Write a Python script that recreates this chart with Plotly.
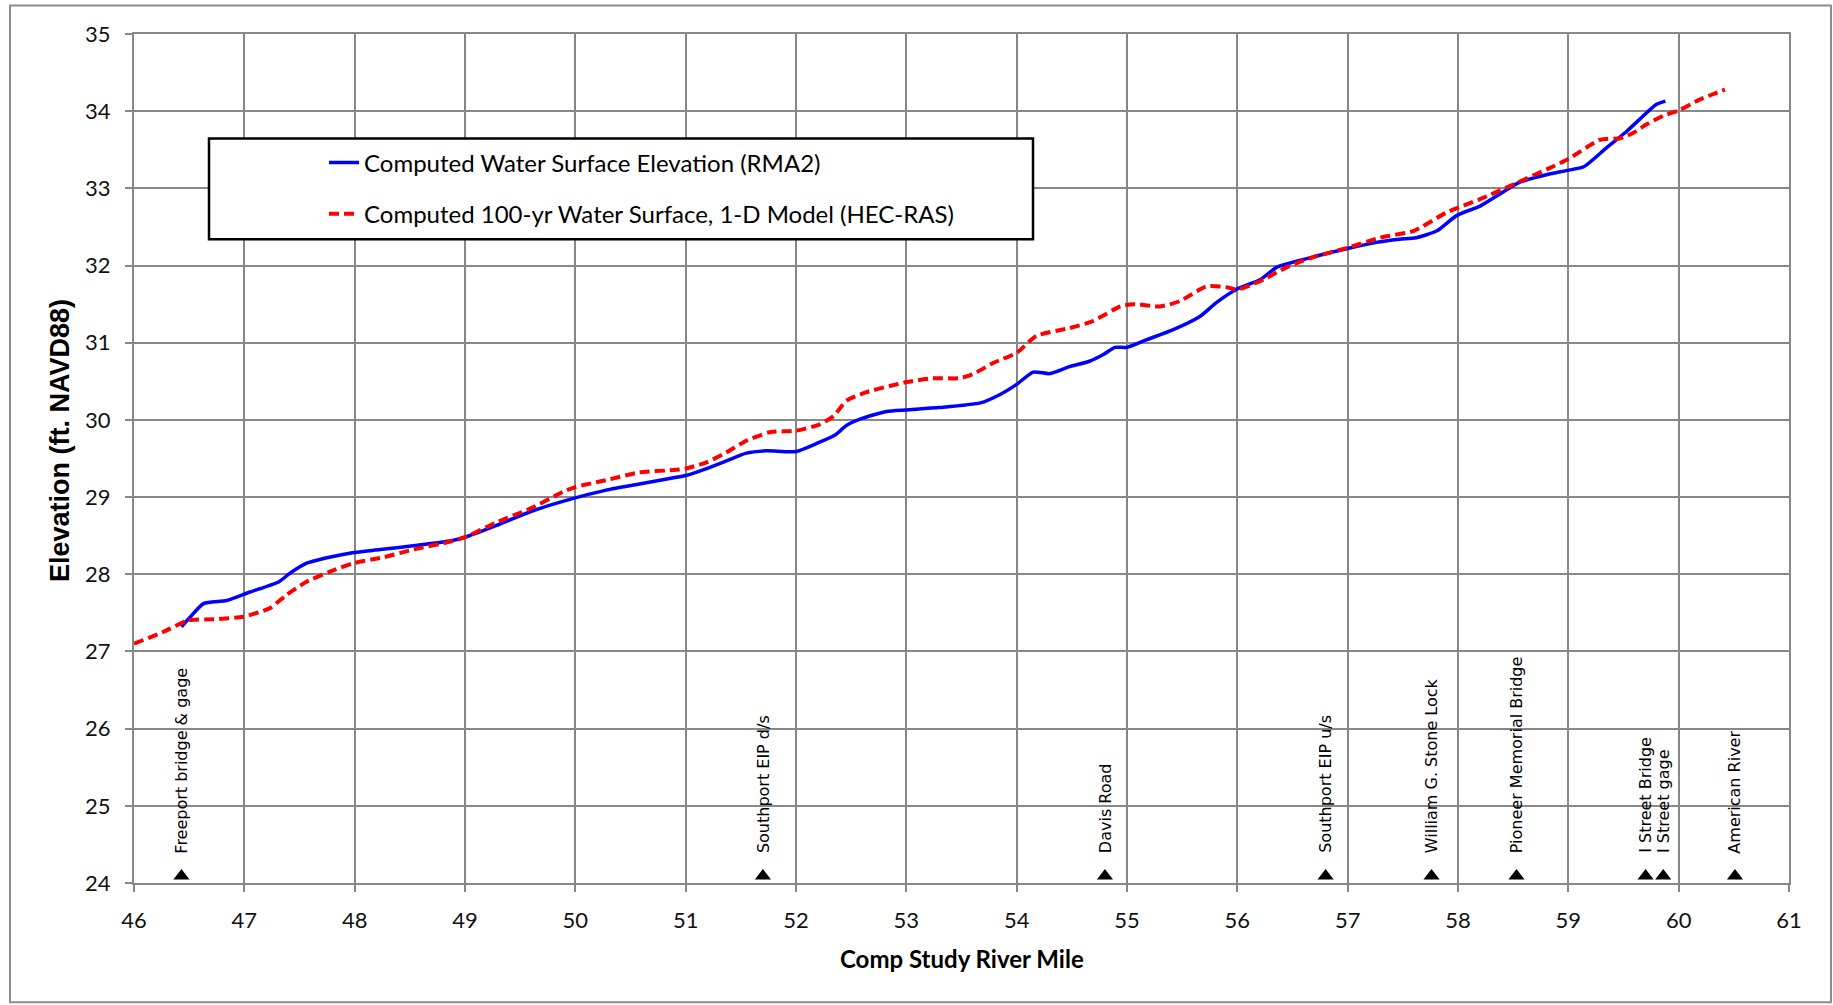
import plotly.graph_objects as go

# ---- data ----
rma2_mile = [46.43, 46.50, 46.63, 46.84, 47.05, 47.31, 47.41, 47.56, 47.77, 47.98,
             48.23, 48.53, 48.86, 49.00, 49.28, 49.59, 49.95, 50.28, 50.58, 50.89,
             51.00, 51.19, 51.37, 51.55, 51.73, 52.00, 52.18, 52.35, 52.46, 52.58,
             52.82, 53.00, 53.30, 53.67, 53.85, 54.00, 54.15, 54.30, 54.48, 54.66,
             54.79, 54.89, 55.00, 55.18, 55.42, 55.66, 55.81, 55.99, 56.21, 56.36,
             56.63, 57.00, 57.26, 57.47, 57.62, 57.81, 57.99, 58.20, 58.35, 58.56,
             58.81, 58.98, 59.14, 59.35, 59.53, 59.71, 59.80, 59.88]
rma2_elev = [27.32, 27.43, 27.62, 27.66, 27.77, 27.90, 28.01, 28.14, 28.22, 28.28,
             28.32, 28.37, 28.43, 28.48, 28.63, 28.81, 28.97, 29.09, 29.17, 29.25,
             29.28, 29.37, 29.47, 29.57, 29.60, 29.59, 29.69, 29.80, 29.93, 30.01,
             30.11, 30.13, 30.16, 30.22, 30.33, 30.46, 30.62, 30.60, 30.69, 30.76,
             30.85, 30.94, 30.94, 31.04, 31.17, 31.34, 31.52, 31.69, 31.82, 31.98,
             32.09, 32.22, 32.30, 32.34, 32.36, 32.45, 32.65, 32.77, 32.90, 33.08,
             33.18, 33.23, 33.28, 33.53, 33.74, 33.98, 34.09, 34.13]

hecras_mile = [46.00, 46.26, 46.49, 46.75, 46.99, 47.23, 47.38, 47.56, 47.77, 47.98,
               48.26, 48.53, 48.86, 49.00, 49.28, 49.59, 49.89, 50.00, 50.28, 50.58,
               50.89, 51.00, 51.19, 51.37, 51.55, 51.76, 52.00, 52.21, 52.34, 52.46,
               52.64, 52.85, 53.00, 53.24, 53.48, 53.60, 53.79, 54.00, 54.18, 54.48,
               54.69, 54.94, 55.06, 55.30, 55.48, 55.72, 55.90, 56.00, 56.21, 56.45,
               56.69, 57.00, 57.29, 57.60, 57.90, 58.20, 58.50, 58.81, 59.00, 59.29,
               59.47, 59.59, 59.71, 59.86, 60.00, 60.19, 60.42]
hecras_elev = [27.10, 27.25, 27.40, 27.42, 27.45, 27.56, 27.73, 27.90, 28.03, 28.14,
               28.22, 28.32, 28.42, 28.48, 28.67, 28.85, 29.07, 29.13, 29.22, 29.32,
               29.35, 29.37, 29.45, 29.58, 29.73, 29.84, 29.86, 29.94, 30.05, 30.25,
               30.36, 30.44, 30.49, 30.54, 30.54, 30.59, 30.74, 30.87, 31.09, 31.19,
               31.28, 31.47, 31.50, 31.47, 31.54, 31.73, 31.72, 31.69, 31.80, 31.98,
               32.11, 32.23, 32.36, 32.45, 32.69, 32.86, 33.05, 33.25, 33.38, 33.63,
               33.65, 33.72, 33.83, 33.94, 34.01, 34.15, 34.28]

landmark_names = ["Freeport bridge & gage", "Southport EIP d/s", "Davis Road",
                  "Southport EIP u/s", "William G. Stone Lock", "Pioneer Memorial Bridge",
                  "I Street Bridge", "I Street gage", "American River"]
landmark_miles = [46.43, 51.70, 54.80, 56.80, 57.76, 58.53, 59.70, 59.86, 60.51]
landmark_marker_elev = 24.09
landmark_label_elev = 24.36

x_ticks = list(range(46, 62))
y_ticks = list(range(24, 36))

# ---- figure ----
W, H = 1833, 1005
L, R, T, B = 134, 44, 33.5, 121.5
pw, ph = W - L - R, H - T - B


def px(X):
    return (X - L) / pw


def py(Y):
    return (H - B - Y) / ph


GRID = "#888888"
FONT = "Lato, Calibri, Carlito, sans-serif"

fig = go.Figure()
fig.add_trace(go.Scatter(
    x=rma2_mile, y=rma2_elev, mode="lines",
    name="Computed Water Surface Elevation (RMA2)",
    line=dict(color="#0000FF", width=3.5, shape="spline", smoothing=0.6),
    legendgroup="a"))
fig.add_trace(go.Scatter(
    x=hecras_mile, y=hecras_elev, mode="lines",
    name="Computed 100-yr Water Surface, 1-D Model (HEC-RAS)",
    line=dict(color="#FF0000", width=4, dash="10px,5px", shape="spline", smoothing=0.6),
    legendgroup="b"))
fig.add_trace(go.Scatter(
    x=landmark_miles, y=[landmark_marker_elev] * len(landmark_miles), mode="markers",
    marker=dict(symbol="triangle-up", size=14, color="black"),
    showlegend=False, cliponaxis=False, hoverinfo="skip"))

annotations = []
for name, mile in zip(landmark_names, landmark_miles):
    annotations.append(dict(
        x=mile, y=landmark_label_elev, xref="x", yref="y", text=name,
        textangle=-90, showarrow=False, xanchor="center", yanchor="bottom",
        font=dict(family="DejaVu Sans, Verdana, sans-serif", size=16, color="black")))

annotations.append(dict(
    x=px(60), y=py(441), xref="paper", yref="paper", text="<b>Elevation (ft. NAVD88)</b>",
    textangle=-90, showarrow=False, xanchor="center", yanchor="middle",
    font=dict(family="Liberation Sans, Arial, sans-serif", size=27, color="black")))
annotations.append(dict(
    x=px(962), y=py(959), xref="paper", yref="paper", text="<b>Comp Study River Mile</b>",
    showarrow=False, xanchor="center", yanchor="middle",
    font=dict(family=FONT, size=24, color="black")))

shapes = [
    # outer chart frame
    dict(type="rect", xref="paper", yref="paper",
         x0=px(10), x1=px(1831), y0=py(1003), y1=py(5),
         line=dict(color="#8c8c8c", width=2), fillcolor="rgba(0,0,0,0)", layer="below"),
    # legend box
    dict(type="rect", xref="paper", yref="paper",
         x0=px(209), x1=px(1033), y0=py(239), y1=py(138),
         line=dict(color="black", width=2.5), fillcolor="white", layer="above"),
]

fig.update_layout(
    width=W, height=H,
    margin=dict(l=L, r=R, t=T, b=B, pad=0),
    paper_bgcolor="white", plot_bgcolor="white",
    font=dict(family=FONT, size=22, color="black"),
    showlegend=True,
    legend=dict(x=px(324), y=py(140), xanchor="left", yanchor="top",
                bgcolor="rgba(0,0,0,0)", borderwidth=0,
                traceorder="grouped", tracegroupgap=17,
                font=dict(family=FONT, size=24, color="black")),
    annotations=annotations,
    shapes=shapes,
)
fig.update_xaxes(range=[46, 61], tickvals=x_ticks, ticktext=[str(v) for v in x_ticks],
                 showgrid=True, gridcolor=GRID, gridwidth=2,
                 showline=True, linecolor=GRID, linewidth=2, mirror=True,
                 ticks="outside", ticklen=7, tickwidth=2, tickcolor=GRID,
                 tickfont=dict(family=FONT, size=22, color="#111"),
                 ticklabelstandoff=10, zeroline=False)
fig.update_yaxes(range=[24, 35], tickvals=y_ticks, ticktext=[str(v) for v in y_ticks],
                 showgrid=True, gridcolor=GRID, gridwidth=2,
                 showline=True, linecolor=GRID, linewidth=2, mirror=True,
                 ticks="outside", ticklen=7, tickwidth=2, tickcolor=GRID,
                 tickfont=dict(family=FONT, size=22, color="#111"),
                 ticklabelstandoff=10, zeroline=False)

fig.write_html("out.html",
               config={"displayModeBar": False},
               post_script="document.body.style.margin='0';"
                           "document.body.style.overflow='hidden';"
                           "document.documentElement.style.overflow='hidden';")
